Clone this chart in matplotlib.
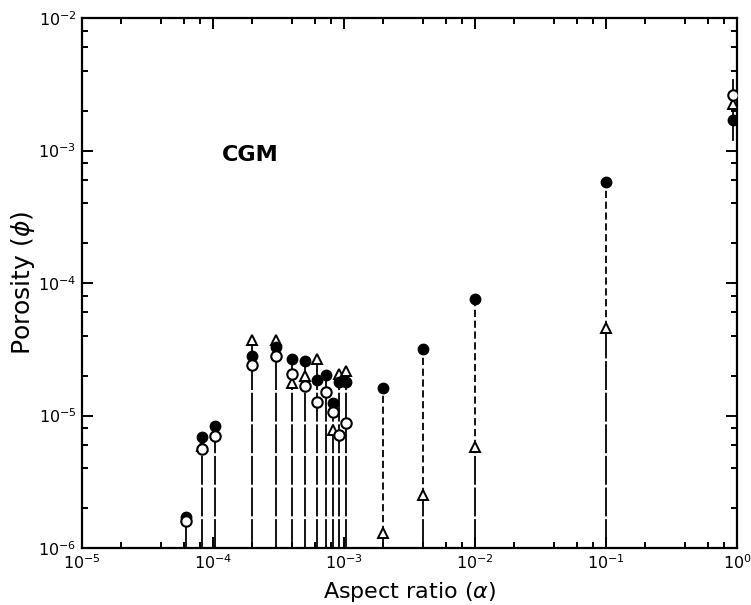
import numpy as np
import matplotlib
matplotlib.use("Agg")
import matplotlib.pyplot as plt
from matplotlib.ticker import LogLocator, NullFormatter, FixedLocator

nan = np.nan

# Aspect ratios (alpha)
alpha = [6.2e-5, 8.2e-5, 1.04e-4, 2.0e-4, 3.0e-4, 4.0e-4, 5.0e-4, 6.2e-4,
         7.3e-4, 8.2e-4, 9.1e-4, 1.03e-3, 2.0e-3, 4.0e-3, 1.0e-2, 1.0e-1, 0.93]
# Porosity values for the three symbol series
phi_filled = [1.7e-6, 6.9e-6, 8.3e-6, 2.8e-5, 3.3e-5, 2.67e-5, 2.6e-5, 1.85e-5,
              2.02e-5, 1.24e-5, 1.79e-5, 1.79e-5, 1.61e-5, 3.2e-5, 7.6e-5, 5.8e-4, 1.7e-3]
phi_open = [1.6e-6, 5.6e-6, 7.0e-6, 2.4e-5, 2.8e-5, 2.06e-5, 1.67e-5, 1.26e-5,
            1.5e-5, 1.06e-5, 7.1e-6, 8.8e-6, nan, nan, nan, nan, 2.62e-3]
phi_tri = [nan, 5.9e-6, nan, 3.7e-5, 3.7e-5, 1.76e-5, 1.99e-5, 2.67e-5,
           nan, 7.8e-6, 2.06e-5, 2.17e-5, 1.3e-6, 2.5e-6, 5.8e-6, 4.6e-5, 2.24e-3]
# stem style: 0 = long-dash stem to top symbol, 1 = long-dash to triangle + dashed to filled
stem_kind = [0]*12 + [1]*4 + [2]
# vertical range line at alpha ~ 1
range_lo = [1.2e-3]
range_hi = [3.4e-3]

xticks = [1e-5, 1e-4, 1e-3, 1e-2, 1e-1, 1e0]
yticks = [1e-6, 1e-5, 1e-4, 1e-3, 1e-2]
xtick_labels = [r"$10^{-5}$", r"$10^{-4}$", r"$10^{-3}$", r"$10^{-2}$", r"$10^{-1}$", r"$10^{0}$"]
ytick_labels = [r"$10^{-6}$", r"$10^{-5}$", r"$10^{-4}$", r"$10^{-3}$", r"$10^{-2}$"]

plt.rcParams['mathtext.fontset'] = 'dejavusans'
fig = plt.figure(figsize=(7.51, 6.05), dpi=100)
ax = fig.add_axes([82/751, 57/605, 655/751, 530/605])
ax.set_xscale('log')
ax.set_yscale('log')
ax.set_xlim(1e-5, 1e0)
ax.set_ylim(1e-6, 1e-2)

ymin = 1e-6
lw = 1.3
longdash = (0, (16, 1.5))
shortdash = (0, (4, 2.0))
for a, f, o, t, k in zip(alpha, phi_filled, phi_open, phi_tri, stem_kind):
    if k == 0:
        top = np.nanmax([f, o, t])
        ax.plot([a, a], [ymin, top], color='black', lw=lw, ls=longdash, zorder=1)
    elif k == 1:
        ax.plot([a, a], [ymin, t], color='black', lw=lw, ls=longdash, zorder=1)
        ax.plot([a, a], [t, f], color='black', lw=lw, ls=shortdash, zorder=1)
for a, lo, hi in zip([alpha[-1]], range_lo, range_hi):
    ax.plot([a, a], [lo, hi], color='black', lw=lw, zorder=1)

ax.plot(alpha, phi_tri, ls='none', marker='^', ms=6.5, mfc='white', mec='black',
        mew=1.4, zorder=3)
ax.plot(alpha, phi_filled, ls='none', marker='o', ms=7.5, mfc='black', mec='black',
        zorder=4)
ax.plot(alpha, phi_open, ls='none', marker='o', ms=7.5, mfc='white', mec='black',
        mew=1.5, zorder=5)

ax.xaxis.set_major_locator(FixedLocator(xticks))
ax.yaxis.set_major_locator(FixedLocator(yticks))
ax.set_xticklabels(xtick_labels)
ax.set_yticklabels(ytick_labels)
ax.xaxis.set_minor_locator(LogLocator(base=10, subs=[2, 4, 6, 8]))
ax.yaxis.set_minor_locator(LogLocator(base=10, subs=[2, 4, 6, 8]))
ax.xaxis.set_minor_formatter(NullFormatter())
ax.yaxis.set_minor_formatter(NullFormatter())
ax.tick_params(which='both', direction='in', top=True, right=True, width=1.4,
               labelsize=11.5, colors='black')
ax.tick_params(which='major', length=8)
ax.tick_params(axis='x', which='major', pad=4)
ax.tick_params(axis='y', which='major', pad=4)
ax.tick_params(which='minor', length=4.5)
for s in ax.spines.values():
    s.set_linewidth(1.6)

ax.set_xlabel(r"Aspect ratio ($\alpha$)", fontsize=16)
ax.xaxis.set_label_coords(0.5, -0.06)
ax.set_ylabel(r"Porosity ($\phi$)", fontsize=18, labelpad=1)
ax.text(0.214, 0.742, "CGM", transform=ax.transAxes, fontsize=16,
        fontweight='bold', ha='left', va='center')

fig.savefig("out.png", dpi=100)
